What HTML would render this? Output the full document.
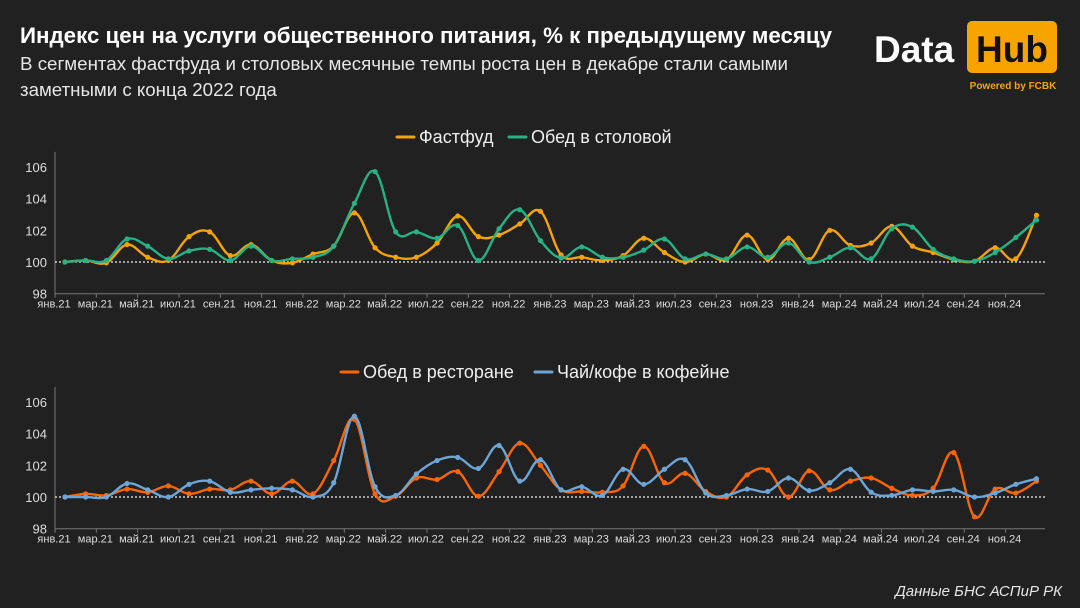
<!DOCTYPE html>
<html><head><meta charset="utf-8">
<style>
body{margin:0;background:#212121;width:1080px;height:608px;overflow:hidden;font-family:"Liberation Sans","DejaVu Sans",sans-serif;}
svg{position:absolute;left:0;top:0}
</style></head>
<body>
<svg width="1080" height="608" id="chart">
<rect width="1080" height="608" fill="#212121"/>
<text x="20" y="43" fill="#fff" font-size="22" font-weight="bold" textLength="812" lengthAdjust="spacingAndGlyphs">Индекс цен на услуги общественного питания, % к предыдущему месяцу</text>
<text x="20" y="70" fill="#e6e6e6" font-size="18.7" textLength="768" lengthAdjust="spacingAndGlyphs">В сегментах фастфуда и столовых месячные темпы роста цен в декабре стали самыми</text>
<text x="20" y="96" fill="#e6e6e6" font-size="18.7">заметными с конца 2022 года</text>
<g>
<text x="874" y="62" fill="#fff" font-size="37" font-weight="bold">Data</text>
<rect x="967" y="21" width="90" height="52" rx="5" fill="#f7a400"/>
<text x="1012" y="62" fill="#111" font-size="37" font-weight="bold" text-anchor="middle">Hub</text>
<text x="1013" y="89" fill="#f7a400" font-size="10" font-weight="bold" text-anchor="middle">Powered by FCBK</text>
</g>
<text x="1062" y="596" fill="#e6e6e6" font-size="15" font-style="italic" text-anchor="end">Данные БНС АСПиР РК</text>
<g id="top"></g>
<g id="bot"></g>
</svg>
<script>
const months = ["янв.21","мар.21","май.21","июл.21","сен.21","ноя.21","янв.22","мар.22","май.22","июл.22","сен.22","ноя.22","янв.23","мар.23","май.23","июл.23","сен.23","ноя.23","янв.24","мар.24","май.24","июл.24","сен.24","ноя.24"];
const yTicks = [98,100,102,104,106];
const fastfood = [100,100.1,99.95,101.1,100.3,100.1,101.6,101.9,100.4,101.1,100.1,99.95,100.5,101.0,103.1,100.9,100.3,100.3,101.2,102.9,101.6,101.7,102.4,103.2,100.45,100.3,100.1,100.4,101.5,100.6,100.0,100.5,100.15,101.7,100.15,101.5,100.15,102.0,101.05,101.2,102.25,101.0,100.6,100.15,100.05,100.9,100.2,102.95];
const canteen = [100,100.1,100.1,101.45,101.0,100.2,100.7,100.8,100.1,101.0,100.1,100.2,100.3,101.0,103.7,105.7,101.9,101.9,101.5,102.3,100.1,102.1,103.3,101.35,100.25,100.95,100.3,100.3,100.75,101.45,100.2,100.5,100.2,100.95,100.3,101.2,100.0,100.3,100.9,100.2,102.1,102.2,100.8,100.2,100.05,100.6,101.55,102.65];
const restaurant = [100,100.2,100.1,100.5,100.3,100.7,100.2,100.5,100.45,101.0,100.2,101.0,100.2,102.3,104.9,100.2,100.05,101.2,101.1,101.6,100.05,101.6,103.4,102.0,100.45,100.35,100.3,100.7,103.2,100.9,101.5,100.35,100.0,101.4,101.7,100.0,101.65,100.45,101.0,101.2,100.55,100.1,100.55,102.8,98.75,100.5,100.25,101.0];
const coffee = [100,100,100,100.85,100.45,100.0,100.8,101.0,100.3,100.45,100.55,100.45,100.0,100.9,105.1,100.65,100.1,101.45,102.3,102.5,101.8,103.25,101.0,102.35,100.45,100.65,100.1,101.75,100.8,101.75,102.35,100.25,100.1,100.5,100.35,101.2,100.4,100.9,101.75,100.3,100.1,100.45,100.35,100.45,100.0,100.25,100.8,101.15];

const NS="http://www.w3.org/2000/svg";
function mk(parent,tag,attrs){const e=document.createElementNS(NS,tag);for(const k in attrs)e.setAttribute(k,attrs[k]);parent.appendChild(e);return e;}
const xAt=i=>65+20.67*i;
function smooth(pts){let d=`M${pts[0][0]},${pts[0][1]}`;for(let i=0;i<pts.length-1;i++){const p0=pts[Math.max(0,i-1)],p1=pts[i],p2=pts[i+1],p3=pts[Math.min(pts.length-1,i+2)];const t=0.18;d+=` C${p1[0]+(p2[0]-p0[0])*t},${p1[1]+(p2[1]-p0[1])*t} ${p2[0]-(p3[0]-p1[0])*t},${p2[1]-(p3[1]-p1[1])*t} ${p2[0]},${p2[1]}`;}return d;}
function panel(g,y100,legendY,series,prefix){
  const yAt=v=>y100-(v-100)*15.85;
  const yTop=yAt(106)-15, yBot=yAt(98);
  const yAxis=mk(g,'line',{x1:55,x2:55,y1:yTop,y2:yBot,stroke:'#777','stroke-width':1});
  
  
  const xAxis=mk(g,'line',{x1:55,x2:1045,y1:yBot,y2:yBot,stroke:'#777','stroke-width':1});
  
  
  yTicks.forEach(v=>{
    const t=mk(g,'text',{x:47,y:yAt(v)+5,fill:'#ddd','font-size':13,'text-anchor':'end'});
    t.textContent=v;
    
    
  });
  months.forEach((m,k)=>{
    const x=55+41.33*k;
    const tk=mk(g,'line',{x1:x,x2:x,y1:yBot,y2:yBot+4,stroke:'#777'});
    
    
    const t=mk(g,'text',{x:x-1,y:yBot+14,fill:'#ddd','font-size':11,'text-anchor':'middle'});
    t.textContent=m;
    
    
  });
  const ref=mk(g,'line',{x1:55,x2:1045,y1:yAt(100),y2:yAt(100),stroke:'#eee','stroke-width':1.2,'stroke-dasharray':'2,2'});
  
  
  let lx=series.legendX;
  series.list.forEach(s=>{
    const lg=mk(g,'g',{});
    
    
    mk(lg,'line',{x1:lx,x2:lx+17,y1:legendY,y2:legendY,stroke:s.color,'stroke-width':3,'stroke-linecap':'round'});
    const t=mk(lg,'text',{x:lx+22,y:legendY+6,fill:'#eee','font-size':18});
    t.textContent=s.name;
    lx+=22+s.w+12;
  });
  series.list.forEach(s=>{
    const pts=s.data.map((v,i)=>[xAt(i),yAt(v)]);
    const p=mk(g,'path',{d:smooth(pts),fill:'none',stroke:s.color,'stroke-width':2.4});
    
    
    pts.forEach(q=>{
      const c=mk(g,'circle',{cx:q[0],cy:q[1],r:2.6,fill:s.color});
      
      
    });
  });
}
panel(document.getElementById('top'),262,137,{legendX:397,list:[
 {key:'fastfood',name:'Фастфуд',color:'#f5a300',data:fastfood,w:78},
 {key:'canteen',name:'Обед в столовой',color:'#27b184',data:canteen,w:150}]},'top');
panel(document.getElementById('bot'),497,372,{legendX:341,list:[
 {key:'restaurant',name:'Обед в ресторане',color:'#ff6600',data:restaurant,w:160},
 {key:'coffee',name:'Чай/кофе в кофейне',color:'#6ca6d8',data:coffee,w:178}]},'bottom');
</script>
</body></html>
